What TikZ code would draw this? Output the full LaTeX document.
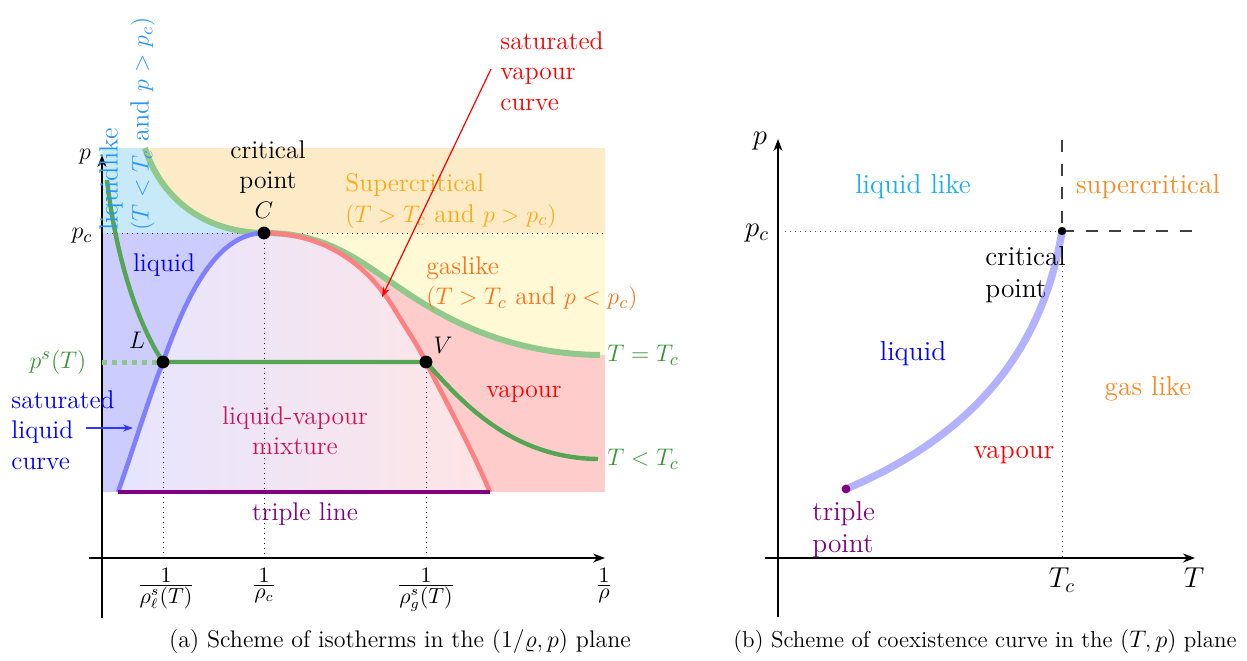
\documentclass[tikz,border=0pt]{standalone}
\usepackage{amsmath}
\usetikzlibrary{arrows.meta}
\definecolor{cLiqLike}{RGB}{40,150,245}
\definecolor{cLiqLikeR}{RGB}{20,175,240}
\definecolor{cSuper}{RGB}{250,170,20}
\definecolor{cGas}{RGB}{250,115,25}
\definecolor{cGasR}{RGB}{255,135,30}
\definecolor{cMix}{RGB}{205,20,85}
\definecolor{cPurple}{RGB}{128,0,128}
\definecolor{cGreen}{RGB}{55,150,55}
\definecolor{cIso}{RGB}{85,165,85}
\definecolor{cIsoC}{RGB}{145,200,140}
\definecolor{cFillCyan}{RGB}{200,234,248}
\definecolor{cFillOrange}{RGB}{253,235,200}
\definecolor{cFillYellow}{RGB}{255,249,214}
\begin{document}
\begin{tikzpicture}[x=0.5pt,y=-0.5pt,
  lbl/.style={inner sep=0pt, font=\fontsize{12.8}{15.3}\selectfont},
  rlbl/.style={inner sep=0pt, font=\fontsize{13.7}{16}\selectfont},
  ticklbl/.style={inner sep=0pt, font=\fontsize{10.5}{13}\selectfont},
  caplbl/.style={inner sep=0pt, font=\fontsize{12}{14}\selectfont},
  caprlbl/.style={inner sep=0pt, font=\fontsize{11.5}{14}\selectfont},
  axisline/.style={line width=0.6pt, -{Stealth[length=6pt,width=4.5pt]}},
  bigdot/.style={circle, fill=black, inner sep=0pt, minimum size=6.4pt},
  guide/.style={dotted, line width=0.5pt}]
\useasboundingbox (0,0) rectangle (1247,660);

% ---------- left plot: key points ----------
\coordinate (C) at (264,233);
\coordinate (L) at (163,362);
\coordinate (V) at (426,362);
\coordinate (TcS) at (145,148);
\coordinate (TcE) at (600,355);
\coordinate (SubS) at (107,180);
\coordinate (SubE) at (598,459);
\coordinate (LqS) at (118,492);
\coordinate (VpE) at (490,492);

% regions
\fill[cFillCyan] (102,148) -- (TcS) .. controls (160,195) and (200,232) .. (C) -- (102,233) -- cycle;
\fill[cFillOrange] (TcS) .. controls (160,195) and (200,232) .. (C) -- (605,233) -- (605,148) -- cycle;
\fill[cFillYellow] (C) -- (605,233) -- (605,355) -- (TcE) .. controls (520,354) and (460,328) .. (410,295) .. controls (360,262) and (330,233) .. (C) -- cycle;
\fill[red!20] (C) .. controls (330,233) and (360,262) .. (410,295) .. controls (460,328) and (520,354) .. (TcE) -- (605,355) -- (605,492) -- (VpE) .. controls (470,445) and (445,400) .. (V) .. controls (417,344) and (405,327) .. (395,310) .. controls (368,265) and (325,233) .. (C) -- cycle;
\fill[blue!20] (102,233) -- (C) .. controls (215,233) and (185,300) .. (L) .. controls (148,400) and (133,450) .. (LqS) -- (102,492) -- cycle;
\shade[left color=blue!10, right color=red!10] (LqS) .. controls (133,450) and (148,400) .. (L) .. controls (185,300) and (215,233) .. (C) .. controls (325,233) and (368,265) .. (395,310) .. controls (405,327) and (417,344) .. (V) .. controls (445,400) and (470,445) .. (VpE) -- cycle;

% axes
\coordinate (xa0) at (89,558);
\coordinate (xa1) at (605,558);
\coordinate (ya0) at (102,618);
\coordinate (ya1) at (102,155);
\draw[axisline] (xa0) -- (xa1);
\draw[axisline] (ya0) -- (ya1);

% guides
\coordinate (pcL) at (102,233);
\coordinate (pcR) at (605,233);
\draw[guide] (pcL) -- (pcR);
\draw[guide] (C) -- (C |- xa0);
\draw[guide] (L) -- (L |- xa0);
\draw[guide] (V) -- (V |- xa0);

% curves
\draw[cIsoC, line width=3pt] (TcS) .. controls (160,195) and (200,232) .. (C) .. controls (330,233) and (360,262) .. (410,295) .. controls (460,328) and (520,354) .. (TcE);
\draw[red!50, line width=2.3pt] (C) .. controls (325,233) and (368,265) .. (395,310) .. controls (405,327) and (417,344) .. (V) .. controls (445,400) and (470,445) .. (VpE);
\draw[blue!50, line width=2.3pt] (LqS) .. controls (133,450) and (148,400) .. (L) .. controls (185,300) and (215,233) .. (C);
\coordinate (psL) at (102,362);
\draw[green!50!black!45, line width=2.5pt, dash pattern=on 2.6pt off 2.4pt] (psL) -- (L);
\draw[cIso, line width=2.2pt] (SubS) .. controls (115,250) and (135,320) .. (L) -- (V) .. controls (460,400) and (510,458) .. (SubE);
\draw[cPurple, line width=2pt] (LqS) -- (VpE);

\node[bigdot] (Cdot) at (C) {};
\node[bigdot] (Ldot) at (L) {};
\node[bigdot] (Vdot) at (V) {};

% labels
\node[lbl] (pax) at (85,157) {$p$};
\node[lbl] (pcax) at (82,236) {$p_c$};
\node[lbl, font=\fontsize{13.2}{15.5}\selectfont, text=cLiqLike, rotate=90, anchor=north west, align=left] (liqlike) at (99,231) {liquidlike\\$(T<T_c$ and $p>p_c)$};
\node[lbl, align=center, anchor=north] (critL) at (268,140) {critical\\point};
\node[lbl] (Clbl) at (264,210) {$C$};
\node[lbl, text=cSuper, align=left, anchor=north west] (superL) at (345,173) {Supercritical\\$(T>T_c$ and $p>p_c)$};
\node[lbl, text=cGas, align=left, anchor=north west] (gasL) at (426,256) {gaslike\\$(T>T_c$ and $p<p_c)$};
\node[lbl, text=red, align=left, anchor=north west] (svc) at (500,31) {saturated\\vapour\\curve};
\coordinate (svcTip) at (382,297);
\draw[red, line width=0.6pt, -{Stealth[length=5pt,width=3.5pt]}] ([xshift=-4.5pt,yshift=1pt]svc.west) -- (svcTip);
\node[lbl, text=blue] (liqL) at (164,265) {liquid};
\node[lbl] (Llbl) at (137,340) {$L$};
\node[lbl] (Vlbl) at (443,345) {$V$};
\node[lbl, text=cGreen] (psT) at (58,362) {$p^s(T)$};
\node[lbl, text=blue, align=left, anchor=north west] (slc) at (11,390) {saturated\\liquid\\curve};
\coordinate (slcA) at (86,428);
\coordinate (slcB) at (133,428);
\draw[blue!80, line width=0.6pt, -{Stealth[length=5pt,width=3.5pt]}] (slcA) -- (slcB);
\node[lbl, text=cMix, align=center, anchor=north] (mix) at (295,406) {liquid-vapour\\mixture};
\node[lbl, text=red] (vapL) at (524,394) {vapour};
\node[lbl, text=cPurple] (tline) at (305,514) {triple line};
\node[lbl, text=cGreen, anchor=west] (TeqTc) at (607,355) {$T=T_c$};
\node[lbl, text=cGreen, anchor=west] (TltTc) at (607,459) {$T<T_c$};

\node[ticklbl, anchor=north] (t1) at (166,568) {$\frac{\textstyle 1}{\textstyle \rho^s_\ell(T)}$};
\node[ticklbl, anchor=north] (t2) at (264,568) {$\frac{\textstyle 1}{\textstyle \rho_c}$};
\node[ticklbl, anchor=north] (t3) at (426,568) {$\frac{\textstyle 1}{\textstyle \rho^s_g(T)}$};
\node[ticklbl, anchor=north] (t4) at (604,568) {$\frac{\textstyle 1}{\textstyle \rho}$};

\node[caplbl, anchor=base] (capa) at (400,647) {(a) Scheme of isotherms in the $(1/\varrho,p)$ plane};

% ---------- right plot ----------
\coordinate (rxa0) at (765,558);
\coordinate (rxa1) at (1195,558);
\coordinate (rya0) at (778,617);
\coordinate (rya1) at (778,139);
\draw[axisline] (rxa0) -- (rxa1);
\draw[axisline] (rya0) -- (rya1);

\coordinate (CP) at (1062,231);
\coordinate (TP) at (846,489);
\coordinate (rpcL) at (785,231);
\coordinate (dashTop) at (1062,140);
\coordinate (dashRight) at (1197,231);
\draw[black!70, dotted, line width=0.5pt] (rpcL) -- (CP);
\draw[black!70, dotted, line width=0.5pt] (CP) -- (CP |- rxa0);
\draw[black!75, line width=0.8pt, dash pattern=on 6pt off 5.8pt] (dashTop) -- (CP);
\draw[black!75, line width=0.8pt, dash pattern=on 6pt off 5.8pt] (CP) -- (dashRight);

\draw[blue!30, line width=3.7pt] (TP) .. controls (950,445) and (1040,370) .. (CP);
\node[circle, fill=black, inner sep=0pt, minimum size=4.2pt] (CPdot) at (CP) {};
\node[circle, fill=cPurple, inner sep=0pt, minimum size=4.4pt] (TPdot) at (TP) {};

\node[rlbl] (rp) at (760,141) {$p$};
\node[rlbl] (rpc) at (757,233) {$p_c$};
\node[rlbl, text=cLiqLikeR] (rliqlike) at (913,187) {liquid like};
\node[rlbl, text=cGasR] (rsuper) at (1148,187) {supercritical};
\node[rlbl, align=left, anchor=north west] (rcrit) at (985,246) {critical\\point};
\node[rlbl, text=blue] (rliq) at (913,354) {liquid};
\node[rlbl, text=cGasR] (rgas) at (1148,389) {gas like};
\node[rlbl, text=red] (rvap) at (1014,455) {vapour};
\node[rlbl, text=cPurple, align=left, anchor=north west] (rtp) at (812,501) {triple\\point};
\node[rlbl] (rTc) at (1062,580) {$T_c$};
\node[rlbl] (rT) at (1194,578) {$T$};

\node[caprlbl, anchor=base] (capb) at (985,647) {(b) Scheme of coexistence curve in the $(T,p)$ plane};
\end{tikzpicture}
\end{document}
